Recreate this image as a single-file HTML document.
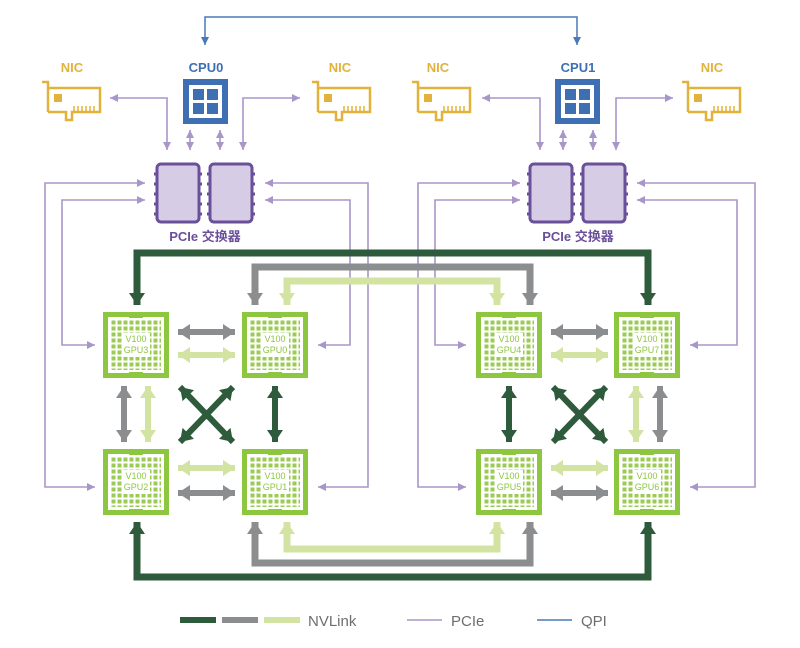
<!DOCTYPE html>
<html><head><meta charset="utf-8"><style>
html,body{margin:0;padding:0;background:#fff}
svg{display:block}
text{font-family:"Liberation Sans","Noto Sans CJK SC",sans-serif}
</style></head><body>
<svg width="800" height="648" viewBox="0 0 800 648" xmlns="http://www.w3.org/2000/svg">
<defs>
<pattern id="dots" x="8" y="8" width="6" height="6" patternUnits="userSpaceOnUse"><rect x="0.5" y="0.5" width="4" height="4" fill="#9ccb55"/></pattern>
<marker id="mD" viewBox="0 0 12 16" refX="12" refY="8" markerWidth="12" markerHeight="16" markerUnits="userSpaceOnUse" orient="auto-start-reverse"><path d="M0,0L12,8L0,16z" fill="#2e5b3b"/></marker>
<marker id="mG" viewBox="0 0 12 16" refX="12" refY="8" markerWidth="12" markerHeight="16" markerUnits="userSpaceOnUse" orient="auto-start-reverse"><path d="M0,0L12,8L0,16z" fill="#8b8d8f"/></marker>
<marker id="mL" viewBox="0 0 12 16" refX="12" refY="8" markerWidth="12" markerHeight="16" markerUnits="userSpaceOnUse" orient="auto-start-reverse"><path d="M0,0L12,8L0,16z" fill="#d3e3a2"/></marker>
<marker id="mP" viewBox="0 0 8 8" refX="8" refY="4" markerWidth="8" markerHeight="8" markerUnits="userSpaceOnUse" orient="auto-start-reverse"><path d="M0,0L8,4L0,8z" fill="#a996c9"/></marker>
<marker id="mB" viewBox="0 0 8 8" refX="8" refY="4" markerWidth="8" markerHeight="8" markerUnits="userSpaceOnUse" orient="auto-start-reverse"><path d="M0,0L8,4L0,8z" fill="#4a78b8"/></marker>
<g id="gpu">
<rect x="0" y="0" width="66" height="66" fill="#8dc63f"/>
<rect x="5" y="5" width="56" height="56" fill="#fff"/>
<rect x="8" y="8" width="50" height="50" fill="url(#dots)"/>
<rect x="19" y="21" width="28" height="24" fill="#fff"/>
<rect x="26" y="3" width="14" height="3" fill="#8dc63f"/>
<rect x="26" y="60" width="14" height="3" fill="#8dc63f"/>
</g>
<g id="nic" fill="none" stroke="#e2b23c" stroke-width="2.5">
<path d="M0,0H6V30M6,6H58V30H30V38H24V30H6"/>
<rect x="12" y="12" width="8" height="8" fill="#e2b23c" stroke="none"/>
<path d="M32,24V30M36,24V30M40,24V30M44,24V30M48,24V30M52,24V30" stroke-width="1.5"/>
</g>
<g id="cpu">
<rect x="0" y="0" width="45" height="45" fill="#3f6fb3"/>
<rect x="6" y="6" width="33" height="33" fill="#fff"/>
<rect x="10" y="10" width="11" height="11" fill="#3f6fb3"/><rect x="24" y="10" width="11" height="11" fill="#3f6fb3"/>
<rect x="10" y="24" width="11" height="11" fill="#3f6fb3"/><rect x="24" y="24" width="11" height="11" fill="#3f6fb3"/>
</g>
<g id="sw">
<rect x="0" y="0" width="42" height="58" rx="4" fill="#d7cce6" stroke="#6a4f9a" stroke-width="3"/>
<path d="M0,10h-3M0,20h-3M0,30h-3M0,40h-3M0,50h-3M42,10h3M42,20h3M42,30h3M42,40h3M42,50h3" stroke="#6a4f9a" stroke-width="3"/>
</g>
</defs>

<path d="M205,45V17H577V45" fill="none" stroke="#4a78b8" stroke-width="1.5" marker-start="url(#mB)" marker-end="url(#mB)"/>

<g font-size="13" font-weight="bold" text-anchor="middle">
<text x="72" y="72" fill="#e2b23c">NIC</text>
<text x="340" y="72" fill="#e2b23c">NIC</text>
<text x="438" y="72" fill="#e2b23c">NIC</text>
<text x="712" y="72" fill="#e2b23c">NIC</text>
<text x="206" y="72" fill="#3f6fb3">CPU0</text>
<text x="578" y="72" fill="#3f6fb3">CPU1</text>
<text x="205" y="241" fill="#6a4f9a">PCIe 交换器</text>
<text x="578" y="241" fill="#6a4f9a">PCIe 交换器</text>
</g>

<use href="#nic" x="42" y="82"/><use href="#nic" x="312" y="82"/>
<use href="#nic" x="412" y="82"/><use href="#nic" x="682" y="82"/>
<use href="#cpu" x="183" y="79"/><use href="#cpu" x="555" y="79"/>
<use href="#sw" x="157" y="164"/><use href="#sw" x="210" y="164"/>
<use href="#sw" x="530" y="164"/><use href="#sw" x="583" y="164"/>

<g fill="none" stroke="#a996c9" stroke-width="1.6" marker-start="url(#mP)" marker-end="url(#mP)">
<path d="M167,150V98H110"/><path d="M243,150V98H300"/>
<path d="M190,130V150"/><path d="M220,130V150"/>
<path d="M540,150V98H482"/><path d="M616,150V98H673"/>
<path d="M563,130V150"/><path d="M593,130V150"/>
<path d="M145,183H45V487H95"/><path d="M145,200H62V345H95"/>
<path d="M265,183H368V487H318"/><path d="M265,200H350V345H318"/>
<path d="M520,183H418V487H466"/><path d="M520,200H435V345H466"/>
<path d="M637,183H755V487H690"/><path d="M637,200H737V345H690"/>
</g>

<g fill="none" stroke-width="7">
<path d="M137,305V253H648V305" stroke="#2e5b3b" marker-start="url(#mD)" marker-end="url(#mD)"/>
<path d="M255,305V267H530V305" stroke="#8b8d8f" marker-start="url(#mG)" marker-end="url(#mG)"/>
<path d="M287,305V281H497V305" stroke="#d3e3a2" marker-start="url(#mL)" marker-end="url(#mL)"/>
<path d="M137,522V577H648V522" stroke="#2e5b3b" marker-start="url(#mD)" marker-end="url(#mD)"/>
<path d="M255,522V563H530V522" stroke="#8b8d8f" marker-start="url(#mG)" marker-end="url(#mG)"/>
<path d="M287,522V549H497V522" stroke="#d3e3a2" marker-start="url(#mL)" marker-end="url(#mL)"/>
</g>

<g fill="none" stroke-width="6">
<path d="M178,332H235" stroke="#8b8d8f" marker-start="url(#mG)" marker-end="url(#mG)"/>
<path d="M178,355H235" stroke="#d3e3a2" marker-start="url(#mL)" marker-end="url(#mL)"/>
<path d="M178,468H235" stroke="#d3e3a2" marker-start="url(#mL)" marker-end="url(#mL)"/>
<path d="M178,493H235" stroke="#8b8d8f" marker-start="url(#mG)" marker-end="url(#mG)"/>
<path d="M124,386V442" stroke="#8b8d8f" marker-start="url(#mG)" marker-end="url(#mG)"/>
<path d="M148,386V442" stroke="#d3e3a2" marker-start="url(#mL)" marker-end="url(#mL)"/>
<path d="M275,386V442" stroke="#2e5b3b" marker-start="url(#mD)" marker-end="url(#mD)"/>
<path d="M180,387L233,442" stroke="#2e5b3b" marker-start="url(#mD)" marker-end="url(#mD)"/>
<path d="M233,387L180,442" stroke="#2e5b3b" marker-start="url(#mD)" marker-end="url(#mD)"/>
<path d="M551,332H608" stroke="#8b8d8f" marker-start="url(#mG)" marker-end="url(#mG)"/>
<path d="M551,355H608" stroke="#d3e3a2" marker-start="url(#mL)" marker-end="url(#mL)"/>
<path d="M551,468H608" stroke="#d3e3a2" marker-start="url(#mL)" marker-end="url(#mL)"/>
<path d="M551,493H608" stroke="#8b8d8f" marker-start="url(#mG)" marker-end="url(#mG)"/>
<path d="M509,386V442" stroke="#2e5b3b" marker-start="url(#mD)" marker-end="url(#mD)"/>
<path d="M636,386V442" stroke="#d3e3a2" marker-start="url(#mL)" marker-end="url(#mL)"/>
<path d="M660,386V442" stroke="#8b8d8f" marker-start="url(#mG)" marker-end="url(#mG)"/>
<path d="M553,387L606,442" stroke="#2e5b3b" marker-start="url(#mD)" marker-end="url(#mD)"/>
<path d="M606,387L553,442" stroke="#2e5b3b" marker-start="url(#mD)" marker-end="url(#mD)"/>
</g>

<use href="#gpu" x="103" y="312"/><use href="#gpu" x="242" y="312"/>
<use href="#gpu" x="103" y="449"/><use href="#gpu" x="242" y="449"/>
<use href="#gpu" x="476" y="312"/><use href="#gpu" x="614" y="312"/>
<use href="#gpu" x="476" y="449"/><use href="#gpu" x="614" y="449"/>
<g font-size="9" fill="#8dc63f" text-anchor="middle">
<text x="136" y="342">V100</text><text x="136" y="353">GPU3</text>
<text x="275" y="342">V100</text><text x="275" y="353">GPU0</text>
<text x="136" y="479">V100</text><text x="136" y="490">GPU2</text>
<text x="275" y="479">V100</text><text x="275" y="490">GPU1</text>
<text x="509" y="342">V100</text><text x="509" y="353">GPU4</text>
<text x="647" y="342">V100</text><text x="647" y="353">GPU7</text>
<text x="509" y="479">V100</text><text x="509" y="490">GPU5</text>
<text x="647" y="479">V100</text><text x="647" y="490">GPU6</text>
</g>

<rect x="180" y="617" width="36" height="6" fill="#2e5b3b"/>
<rect x="222" y="617" width="36" height="6" fill="#8b8d8f"/>
<rect x="264" y="617" width="36" height="6" fill="#d3e3a2"/>
<text x="308" y="626" font-size="15" fill="#6d6e70">NVLink</text>
<line x1="407" y1="620" x2="442" y2="620" stroke="#a996c9" stroke-width="1.6"/>
<text x="451" y="626" font-size="15" fill="#6d6e70">PCIe</text>
<line x1="537" y1="620" x2="572" y2="620" stroke="#4a78b8" stroke-width="1.6"/>
<text x="581" y="626" font-size="15" fill="#6d6e70">QPI</text>
</svg>
</body></html>
